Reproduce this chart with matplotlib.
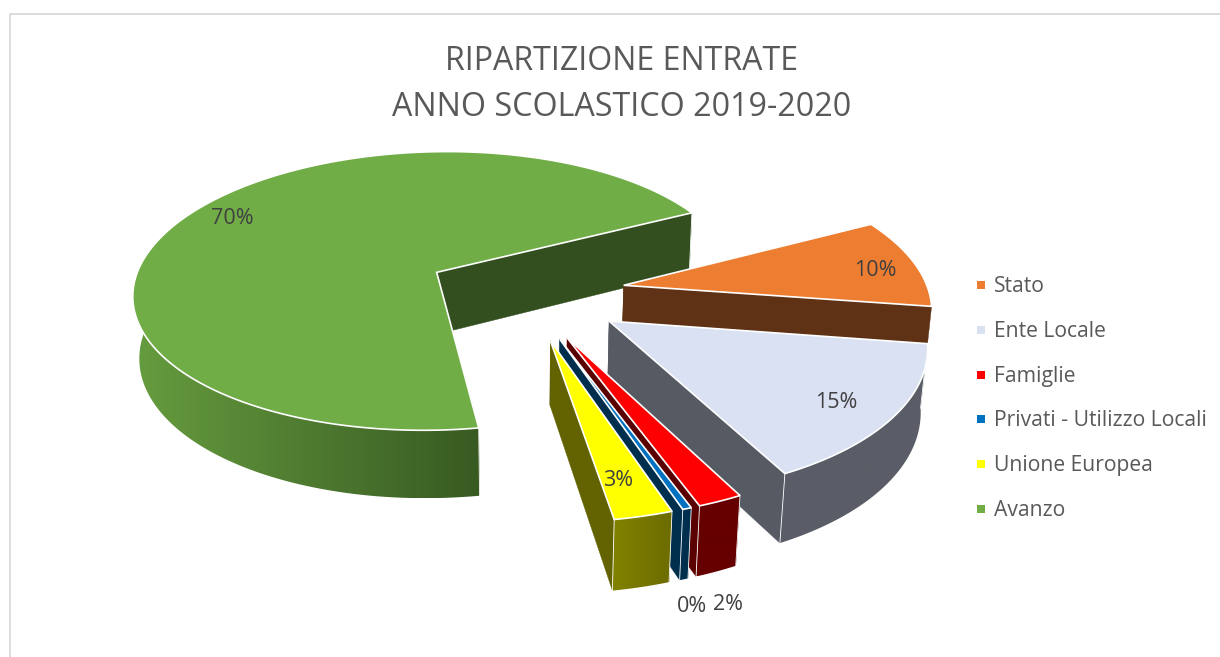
import numpy as np
import matplotlib
matplotlib.use('Agg')
import matplotlib.pyplot as plt
from matplotlib.patches import Polygon, Rectangle
from matplotlib.colors import LinearSegmentedColormap

categories = ['Stato', 'Ente Locale', 'Famiglie', 'Privati - Utilizzo Locali', 'Unione Europea', 'Avanzo']
values = [10, 15.1, 2, 0.4, 2.6, 70]
top_colors = ['#ED7D31', '#D9E1F2', '#FF0000', '#0070C0', '#FFFF00', '#70AD47']
radial_colors = ['#5F3215', '#565A63', '#5A0000', '#002F4E', '#626200', '#334F1F']
arc_left = ['#5F3215', '#5A5D67', '#660000', '#002F4E', '#828200', '#669C3F']
arc_right = ['#5F3215', '#5A5D67', '#660000', '#002F4E', '#6C6C00', '#385A22']
label_pos = [(875, 270), (836, 402), (728, 605), (692, 606), (618, 481), (232, 218)]

# camera
cx, cy = 525, 293
el = np.radians(27.8)
D = 6.5
F = 1985
explode = 0.33
depth = 0.235
start_angle = 27.5


def project(X, Y, Z):
    w = D + Y * np.cos(el) - Z * np.sin(el)
    yp = Y * np.sin(el) + Z * np.cos(el)
    return np.column_stack([cx + F * X / w, cy - F * yp / w])


fig = plt.figure(figsize=(12.2, 6.57), dpi=100)
ax = fig.add_axes([0, 0, 1, 1])

# bordo del grafico
ax.plot([1220, 9.5, 9.5], [13.5, 13.5, 657], color='#D9D9D9', lw=1.3)

total = sum(values)
angles = [start_angle]
for v in values:
    angles.append(angles[-1] - v / total * 360)

# dal fondo verso il davanti: Avanzo, Stato, Ente Locale, Famiglie, Privati, UE
order = [5, 0, 1, 2, 3, 4]
z = 2
for i in order:
    a0 = np.radians(angles[i])
    a1 = np.radians(angles[i + 1])
    mid = (a0 + a1) / 2
    ox = explode * np.cos(mid)
    oy = explode * np.sin(mid)
    th = np.linspace(a0, a1, 300)
    px = ox + np.cos(th)
    py = oy + np.sin(th)
    # Stato: la parte bassa resta nascosta dietro Ente Locale
    h = 0.15 if i == 0 else depth

    top_arc = project(px, py, np.zeros(len(th)))
    bot_arc = project(px, py, np.full(len(th), -h))
    apex_top = project(np.array([ox]), np.array([oy]), np.array([0.0]))
    apex_bot = project(np.array([ox]), np.array([oy]), np.array([-h]))

    # facce radiali
    for k in (0, -1):
        quad = np.vstack([apex_top, top_arc[k], bot_arc[k], apex_bot])
        ax.add_patch(Polygon(quad, closed=True, fc=radial_colors[i], ec=radial_colors[i], lw=0.3, zorder=z))
        z += 1

    # lato esterno con sfumatura
    vis = (np.sin(th) < 0.55) & (np.degrees(th) > -300)
    if i != 0:
        side = np.vstack([top_arc[vis], bot_arc[vis][::-1]])
        patch = Polygon(side, closed=True, fc='none', ec='none', transform=ax.transData)
        ax.add_patch(patch)
        cmap = LinearSegmentedColormap.from_list('s', [arc_left[i], arc_right[i]])
        xa, xb = side[:, 0].min(), side[:, 0].max()
        ya, yb = side[:, 1].min(), side[:, 1].max()
        im = ax.imshow(np.linspace(0, 1, 256).reshape(1, -1), cmap=cmap, extent=(xa, xb, yb, ya),
                       aspect='auto', zorder=z, interpolation='bilinear')
        im.set_clip_path(patch)
        z += 1

        # spigoli verticali bianchi
        for k in (0, -1):
            ax.plot([top_arc[k, 0], bot_arc[k, 0]], [top_arc[k, 1], bot_arc[k, 1]],
                    color='white', lw=0.6, zorder=z)
        z += 1

    # faccia superiore
    poly = np.vstack([apex_top, top_arc])
    ax.add_patch(Polygon(poly, closed=True, fc=top_colors[i], ec='white', lw=1.2, joinstyle='miter', zorder=z))
    z += 1

for i in range(len(values)):
    pct = round(values[i] / total * 100)
    ax.text(label_pos[i][0], label_pos[i][1], f'{pct}%', ha='center', va='center',
            fontsize=15.5, color='#404040', family='Open Sans', zorder=100)

# titolo
ax.text(622, 62, 'RIPARTIZIONE ENTRATE', ha='center', va='center', fontsize=23.1,
        color='#595959', family='Open Sans')
ax.text(622, 107, 'ANNO SCOLASTICO 2019-2020', ha='center', va='center', fontsize=23.2,
        color='#595959', family='Open Sans')

# legenda
for n, name in enumerate(categories):
    y = 285 + n * 44.8
    ax.add_patch(Rectangle((977, y - 4), 8, 8, fc=top_colors[n], ec='none'))
    ax.text(994, y + 1.5, name, ha='left', va='center', fontsize=15.2, color='#595959', family='Open Sans')

ax.set_xlim(0, 1220)
ax.set_ylim(657, 0)
ax.axis('off')
plt.savefig('out.png', dpi=100)
